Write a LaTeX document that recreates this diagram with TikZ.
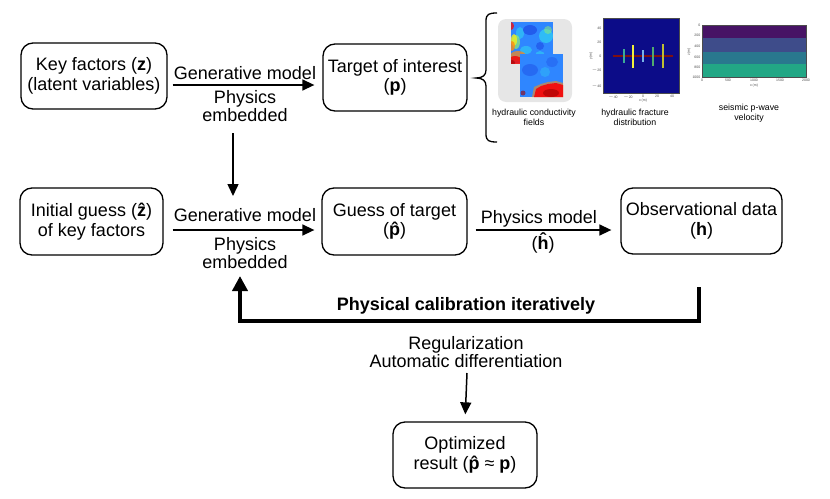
\documentclass[tikz,border=0pt]{standalone}
\usepackage{fontspec}
\setmainfont{Liberation Sans}
\usetikzlibrary{arrows.meta}
\definecolor{vir1}{HTML}{471365}
\definecolor{vir2}{HTML}{3E4C8A}
\definecolor{vir3}{HTML}{29788E}
\definecolor{vir4}{HTML}{22A785}
\definecolor{navy}{HTML}{0C0C88}
\definecolor{jblue}{HTML}{2F86FF}
\definecolor{jdblue}{HTML}{1A40E0}
\definecolor{jcyan}{HTML}{30E0F0}
\definecolor{jgreen}{HTML}{90F070}
\definecolor{jyel}{HTML}{F0F020}
\definecolor{jora}{HTML}{FF8A10}
\definecolor{jred}{HTML}{F01010}
\definecolor{jdred}{HTML}{A00000}
\definecolor{panelgray}{HTML}{E6E6E6}
\definecolor{frline}{HTML}{7F1010}
\definecolor{fr1}{HTML}{3CAA96}
\definecolor{fr2}{HTML}{F0F03C}
\definecolor{fr3}{HTML}{78B4E6}
\definecolor{fr4}{HTML}{50AA6E}
\definecolor{fr5}{HTML}{BEBE32}
\newcommand{\phat}{\textbf{\ooalign{p\cr\hidewidth\char"02C6\hidewidth\cr}}}
\begin{document}
\begin{tikzpicture}[x=1pt,y=-1pt,
  box/.style={draw, line width=1.3pt, rounded corners=12pt, align=center,
    font=\fontsize{18}{19.5}\selectfont, inner sep=0pt},
  lbl/.style={align=center, font=\fontsize{18}{18.5}\selectfont, inner sep=1pt},
  arr/.style={line width=1.5pt, -{Triangle[length=12pt,width=11pt]}},
  small/.style={font=\fontsize{8.8}{10}\selectfont, align=center, inner sep=0pt},
  tick/.style={font=\fontsize{3.5}{4}\selectfont, text=black!70, inner sep=0.5pt},
  frac/.style={line width=1.5pt}]
\useasboundingbox (0,0) rectangle (830,498);

% ---- boxes
\node[box, minimum width=146pt, minimum height=66pt] (key) at (94,76) {Key factors (\textbf{z})\\(latent variables)};
\node[box, minimum width=144pt, minimum height=67pt] (target) at (395,77.5) {Target of interest\\(\textbf{p})};
\node[box, minimum width=143pt, minimum height=67pt] (init) at (91.5,221.5) {Initial guess (\textbf{\^z})\\of key factors};
\node[box, minimum width=145pt, minimum height=67pt] (guess) at (394.5,221.5) {Guess of target\\(\phat)};
\node[box, minimum width=161pt, minimum height=66pt] (obs) at (701.5,221) {Observational data\\(\textbf{h})};
\node[box, minimum width=144pt, minimum height=66pt] (opt) at (465,455) {Optimized\\result (\phat\ ≈ \textbf{p})};

% ---- labels
\node[lbl] (gen1) at (245,73) {Generative model};
\node[lbl] (emb1) at (245,106) {Physics\\embedded};
\node[lbl] (gen2) at (245,215) {Generative model};
\node[lbl] (emb2) at (245,253) {Physics\\embedded};
\node[lbl] (pm) at (539,219) {Physics model};
\node[lbl] (hh) at (543,243) {(\textbf{\^h})};
\node[lbl, font=\fontsize{18}{18}\selectfont\bfseries] (cal) at (466,306) {Physical calibration iteratively};
\node[lbl] (reg) at (466,352) {Regularization\\Automatic differentiation};

% ---- connectors
\draw[arr] ([shift={(5,9)}]key.east) -- ([shift={(-8,7.5)}]target.west);
\draw[arr] ([shift={(9,8.5)}]init.east) -- ([shift={(-7,8.5)}]guess.west);
\draw[arr] ([shift={(8,8.5)}]guess.east) -- ([shift={(-9,9)}]obs.west);
\coordinate (v1) at (233,133);
\coordinate (v2) at (233,196);
\draw[arr] (v1) -- (v2);
\coordinate (f1) at (699,287);
\coordinate (f2) at (240,276);
\draw[line width=4pt, -{Triangle[length=15pt,width=15pt]}] (f1) -- (f1 |- 0,321) -- (f2 |- 0,321) -- (f2);
\coordinate (d1) at (467,373);
\draw[arr, shorten >=7pt] (d1) -- (opt.north);

% ---- brace
\draw[line width=1.3pt] (497,13) .. controls (489,13) and (486,14) .. (486,21) -- (486,70) .. controls (486,75) and (483,78) .. (476,78) .. controls (483,78) and (486,81) .. (486,86) -- (486,134) .. controls (486,141) and (489,142) .. (497,142);

% ---- conductivity fields panel
\fill[panelgray, rounded corners=8pt] (498,19) rectangle (572,102);
\begin{scope}
  \clip (511,22) rectangle (553,63);
  \fill[jblue] (511,22) rectangle (553,63);
  \fill[jcyan, opacity=0.6] (546,36) circle (7);
  \fill[jgreen, opacity=0.5] (548,30) circle (4);
  \fill[jcyan, opacity=0.5] (526,50) ellipse (6 and 4);
  \fill[jcyan, opacity=0.5] (540,56) circle (5);
  \fill[jcyan, opacity=0.5] (520,33) ellipse (4 and 6);
  \fill[jdblue, opacity=0.6] (530,30) ellipse (7 and 5);
  \fill[jdblue, opacity=0.5] (540,46) circle (4);
  \fill[jgreen, opacity=0.7] (516,42) ellipse (4 and 7);
  \fill[jyel, opacity=0.8] (514,40) ellipse (3 and 6);
  \fill[jora, opacity=0.8] (512,46) ellipse (3 and 5);
  \fill[jred, opacity=0.8] (511,26) ellipse (3 and 4);
  \fill[jora, opacity=0.7] (518,56) ellipse (8 and 5);
  \fill[jred, opacity=0.9] (515,61) ellipse (7 and 5);
  \fill[jdred, opacity=0.6] (512,63) circle (3);
\end{scope}
\begin{scope}
  \clip (520,54) rectangle (563,97);
  \fill[jblue] (520,54) rectangle (563,97);
  \fill[jdblue, opacity=0.4] (530,70) ellipse (8 and 6);
  \fill[jdblue, opacity=0.3] (552,62) ellipse (6 and 5);
  \fill[jcyan, opacity=0.3] (545,72) circle (5);
  \fill[jora, opacity=0.6] (532,97) -- (534,87) -- (541,84) -- (548,82) -- (556,81) -- (563,83) -- (563,97) -- cycle;
  \fill[jred] (534,97) -- (536,89) -- (541,86) -- (548,84) -- (556,83) -- (563,85) -- (563,97) -- cycle;
  \fill[jdred, opacity=0.6] (551,93) ellipse (8 and 4);
  \fill[jdred, opacity=0.6] (523,93) circle (2.5);
\end{scope}
\node[small] (lab1) at (534,117) {hydraulic conductivity\\fields};

% ---- fracture distribution plot
\fill[navy] (603,18) rectangle (679,93);
\draw[black!70, line width=0.4pt] (603,18) rectangle (679,93);
\draw[frline, line width=2pt] (613,56) -- (673,56);
\draw[frac, fr1] (624,49) -- (624,63);
\draw[frac, fr2] (633,45) -- (633,68);
\draw[frac, fr3] (643,50) -- (643,62);
\draw[frac, fr4] (653,47) -- (653,66);
\draw[frac, fr5] (663,44) -- (663,68);
\foreach \yy/\t in {28/40,42/20,56/0,70/$-$20,86/$-$40}
  \node[tick, anchor=east] at (602,\yy) {\t};
\foreach \xx/\t in {613/$-$40,628/$-$20,643/0,657/20,672/40}
  \node[tick, anchor=north] at (\xx,94) {\t};
\node[tick] at (643,101) {x (m)};
\node[tick, rotate=90] at (591,56) {y (m)};
\node[small] (lab2) at (635,117) {hydraulic fracture\\distribution};

% ---- seismic velocity plot
\fill[vir1] (702,25) rectangle (806,38);
\fill[vir2] (702,38) rectangle (806,52);
\fill[vir3] (702,52) rectangle (806,64);
\fill[vir4] (702,64) rectangle (806,77);
\draw[black!70, line width=0.4pt] (702,25) rectangle (806,77);
\foreach \yy/\t in {25/0,35/200,46/400,57/600,67/800,77/1000}
  \node[tick, anchor=east] at (701,\yy) {\t};
\foreach \xx/\t in {702/0,728/500,754/1000,780/1500,806/2000}
  \node[tick, anchor=north] at (\xx,78) {\t};
\node[tick] at (754,86) {x (m)};
\node[tick, rotate=90] at (689,52) {z (m)};
\node[small] (lab3) at (749,113) {seismic p-wave\\velocity};
\end{tikzpicture}
\end{document}
